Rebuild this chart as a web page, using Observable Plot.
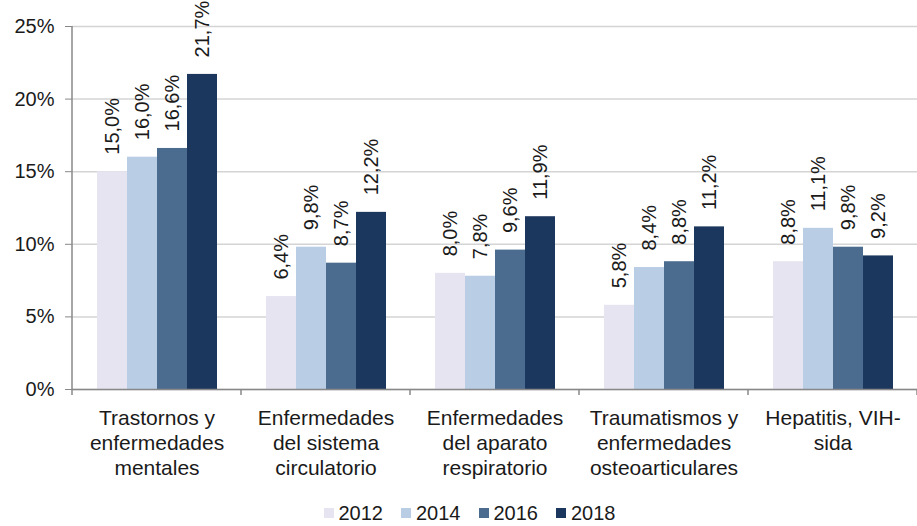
<!DOCTYPE html>
<html>
<head>
<meta charset="utf-8">
<script src="https://cdn.jsdelivr.net/npm/d3@7"></script>
<script src="https://cdn.jsdelivr.net/npm/@observablehq/plot@0.6"></script>
<style>
  body { margin: 0; background: #fff; font-family: "Liberation Sans", Arial, sans-serif; }
  #legend { display: flex; justify-content: center; align-items: center; height: 24px; margin-top: 11px; padding-left: 40px; font-size: 20px; color: #1a1a1a; }
  .item { display: flex; align-items: center; margin-right: 18px; }
  .sw { width: 10px; height: 10px; margin-right: 5px; }
</style>
</head>
<body>
<div id="chart"></div>
<div id="legend"></div>
<script>
const categories = ["Trastornos y\nenfermedades\nmentales", "Enfermedades\ndel sistema\ncirculatorio", "Enfermedades\ndel aparato\nrespiratorio", "Traumatismos y\nenfermedades\nosteoarticulares", "Hepatitis, VIH-\nsida"];
const years = ["2012", "2014", "2016", "2018"];
const v2012 = [15.0, 6.4, 8.0, 5.8, 8.8];
const v2014 = [16.0, 9.8, 7.8, 8.4, 11.1];
const v2016 = [16.6, 8.7, 9.6, 8.8, 9.8];
const v2018 = [21.7, 12.2, 11.9, 11.2, 9.2];
const yTicks = [0, 5, 10, 15, 20, 25];
const colors = ["#e5e4f0", "#b9cde5", "#4b6b8f", "#1c375e"];

const series = [v2012, v2014, v2016, v2018];
const data = [];
categories.forEach((c, i) => years.forEach((y, j) => data.push({cat: c, year: y, value: series[j][i]})));
const fmt = v => v.toFixed(1).replace(".", ",") + "%";

const plot = Plot.plot({
  width: 917,
  height: 490,
  marginLeft: 72,
  marginRight: 0,
  marginTop: 26,
  marginBottom: 101,
  style: {fontFamily: "'Liberation Sans', Arial, sans-serif", fontSize: "20px", color: "#1a1a1a", background: "#fff"},
  fx: {domain: categories, padding: 0, axis: null},
  x: {domain: years, paddingInner: 0, paddingOuter: 0.73, axis: null},
  y: {domain: [0, 25], axis: null},
  color: {domain: years, range: colors},
  marks: [
    Plot.gridY(yTicks, {stroke: "#d4d4d4", strokeOpacity: 1, strokeWidth: 1.5}),
    Plot.axisY({ticks: yTicks, tickFormat: d => d + "%", tickSize: 7, tickPadding: 11, stroke: "#888", fill: "#1a1a1a", fontSize: 20, label: null}),
    Plot.barY(data, {fx: "cat", x: "year", y: "value", fill: "year"}),
    Plot.ruleY([0], {stroke: "#888", strokeWidth: 1.5}),
    Plot.text(data, {fx: "cat", x: "year", y: "value", text: d => fmt(d.value), rotate: -90, textAnchor: "start", lineAnchor: "middle", dy: -17, fontSize: 20, fill: "#1a1a1a"}),
    Plot.text(categories, {fx: d => d, text: d => d, frameAnchor: "bottom", lineAnchor: "top", dy: 18, lineHeight: 1.19, fontSize: 21, fill: "#1a1a1a"})
  ]
});
document.getElementById("chart").appendChild(plot);

// axis line and category boundary ticks from the plot's scales
const fx = plot.scale("fx");
const ys = plot.scale("y");
const y0 = ys.apply(0), yTop = ys.apply(25);
const svg = d3.select(plot);
const bounds = categories.map(c => fx.apply(c));
bounds.push(fx.apply(categories[categories.length - 1]) + fx.bandwidth);
svg.append("line").attr("x1", bounds[0]).attr("x2", bounds[0]).attr("y1", yTop).attr("y2", y0 + 6)
  .attr("stroke", "#888").attr("stroke-width", 1.5);
bounds.slice(1).forEach(b => {
  svg.append("line").attr("x1", b).attr("x2", b).attr("y1", y0).attr("y2", y0 + 6)
    .attr("stroke", "#888").attr("stroke-width", 1.5);
});

const legend = document.getElementById("legend");
years.forEach((y, i) => {
  const it = document.createElement("div"); it.className = "item";
  const sw = document.createElement("div"); sw.className = "sw"; sw.style.background = colors[i];
  const t = document.createElement("span"); t.textContent = y;
  it.appendChild(sw); it.appendChild(t); legend.appendChild(it);
});
</script>
</body>
</html>
